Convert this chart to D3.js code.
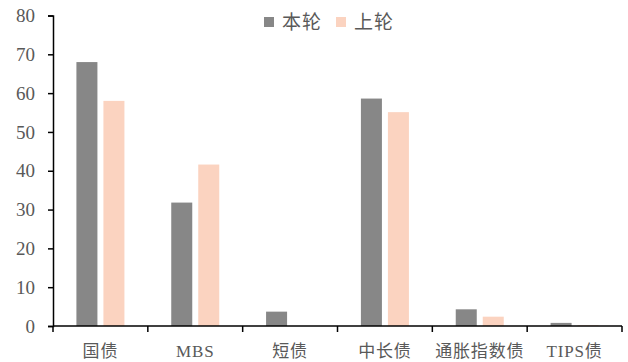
<!DOCTYPE html>
<html><head><meta charset="utf-8">
<script src="https://cdn.jsdelivr.net/npm/d3@7"></script>
<style>body{margin:0;background:#fff}svg{display:block}</style>
</head><body>
<svg id="c" width="628" height="362"></svg>
<script>
const categories = ["国债","MBS","短债","中长债","通胀指数债","TIPS债"];
const seriesNames = ["本轮","上轮"];
const current = [68, 31.8, 3.7, 58.6, 4.3, 0.8];
const previous = [58, 41.6, 0, 55.1, 2.4, 0.2];
const yTicks = [0,10,20,30,40,50,60,70,80];
const colors = ["#878787","#FBD3C0"];

const svg = d3.select("#c");
const x0 = d3.scaleBand().domain(categories).range([53,622]).paddingInner(0).paddingOuter(0);
const y = d3.scaleLinear().domain([0,80]).range([326,15.5]);
const x1 = d3.scaleBand().domain(seriesNames).range([0, x0.bandwidth()]).paddingInner(0.222).paddingOuter(0.867);

const data = categories.map((c,i)=>({c, v:[current[i],previous[i]]}));
const g = svg.append("g");
g.selectAll("g.cat").data(data).join("g").attr("transform",d=>`translate(${x0(d.c)},0)`)
 .selectAll("rect").data(d=>d.v.map((v,j)=>({v,j}))).join("rect")
 .attr("x",d=>x1(seriesNames[d.j])).attr("width",x1.bandwidth())
 .attr("y",d=>y(d.v)).attr("height",d=>y(0)-y(d.v)).attr("fill",d=>colors[d.j]);

const yAxis = svg.append("g").attr("transform","translate(53,0)")
 .call(d3.axisLeft(y).tickValues(yTicks).tickSize(5).tickPadding(13));
yAxis.select(".domain").attr("stroke","#000").attr("stroke-width",1.5);
yAxis.selectAll(".tick line").attr("stroke","#000").attr("stroke-width",1.5);
yAxis.selectAll("text").attr("fill","#595959").style("font-family","'Liberation Serif',serif").style("font-size","19px");

const xAxis = svg.append("g").attr("transform","translate(0,326)");
xAxis.append("line").attr("x1",53).attr("x2",622).attr("stroke","#000").attr("stroke-width",1.5);
const edges = categories.map(c=>x0(c)).concat([x0.range()[1]]);
xAxis.selectAll("line.t").data(edges).join("line").attr("class","t")
 .attr("x1",d=>d).attr("x2",d=>d).attr("y1",0).attr("y2",6).attr("stroke","#000").attr("stroke-width",1.5);
xAxis.selectAll("text").data(categories).join("text")
 .attr("x",d=>x0(d)+x0.bandwidth()/2).attr("y",31)
 .attr("text-anchor","middle").attr("fill","#595959")
 .style("font-family","'Liberation Serif','Noto Sans CJK SC',serif").style("font-size","17px")
 .style("letter-spacing","0.8px")
 .text(d=>d);

const leg = svg.append("g");
const legX = [264, 336];
seriesNames.forEach((s,i)=>{
  leg.append("rect").attr("x",legX[i]).attr("y",17).attr("width",10).attr("height",10).attr("fill",colors[i]);
  leg.append("text").attr("x",legX[i]+18).attr("y",29).attr("fill","#595959")
   .style("font-family","'Noto Sans CJK SC',sans-serif").style("font-size","19px").style("letter-spacing","1px").text(s);
});
</script>
</body></html>
